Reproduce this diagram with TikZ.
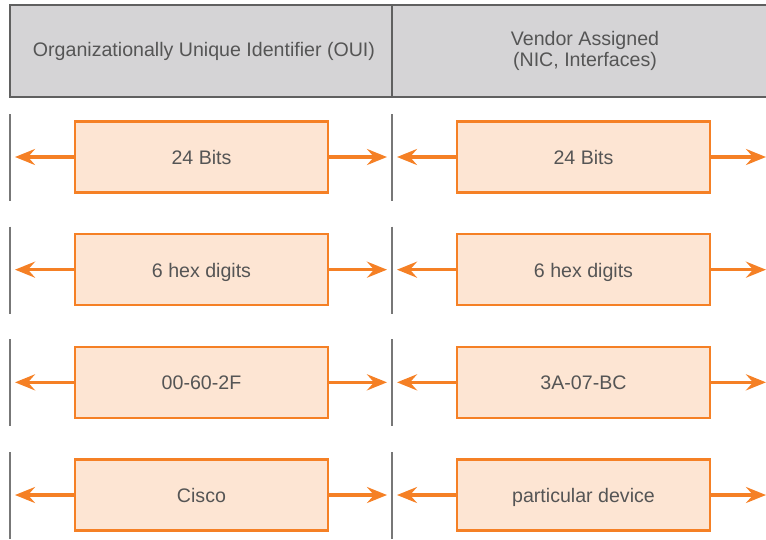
\documentclass[tikz,border=0pt]{standalone}
\usepackage{fontspec}
\setmainfont{Liberation Sans}
\usetikzlibrary{arrows.meta}
\definecolor{hdrfill}{HTML}{D5D4D6}
\definecolor{hdrline}{HTML}{606060}
\definecolor{boxfill}{HTML}{FDE5D3}
\definecolor{boxline}{HTML}{F58025}
\definecolor{txt}{HTML}{555555}
\definecolor{sep}{HTML}{777777}
\tikzset{
  hdrtext/.style={text=txt,font=\fontsize{19.6}{21}\selectfont,align=center},
  fieldbox/.style={draw=boxline,fill=boxfill,line width=2.5pt,minimum width=253pt,minimum height=71pt,inner sep=0pt,text=txt,font=\fontsize{19.6}{21}\selectfont,text height=15pt,text depth=0pt},
  sepline/.style={draw=sep,line width=2pt},
  orarrow/.style={draw=boxline,line width=3.5pt,-{Stealth[length=20pt,width=16pt,inset=7pt]}}
}
\begin{document}
\begin{tikzpicture}[x=1pt,y=-1pt]
\useasboundingbox (0,0) rectangle (766,539);
% header
\fill[hdrfill] (10,5) rectangle (790,97);
\draw[hdrline,line width=2.5pt] (790,5) -- (10,5) -- (10,97) -- (790,97);
\draw[hdrline,line width=2.5pt] (392,5) -- (392,97);
\node[hdrtext] (oui) at (204,51) {Organizationally Unique Identifier (OUI)};
\node[hdrtext] (vendor) at (585,51) {Vendor Assigned\\(NIC, Interfaces)};
% rows
\foreach \i/\lt/\rt in {0/24 Bits/24 Bits, 1/6 hex digits/6 hex digits, 2/00-60-2F/3A-07-BC, 3/Cisco/particular device}{
  \pgfmathsetmacro{\yc}{157+112.67*\i}
  \draw[sepline] (10,\yc-43) -- (10,\yc+44);
  \draw[sepline] (392,\yc-43) -- (392,\yc+44);
  \node[fieldbox] (L\i) at (201.5,\yc) {\lt};
  \node[fieldbox] (R\i) at (583.5,\yc) {\rt};
  \coordinate (la\i) at (15,\yc);
  \coordinate (lb\i) at (387,\yc);
  \coordinate (ra\i) at (397,\yc);
  \coordinate (rb\i) at (766,\yc);
  \draw[orarrow] (L\i.west) -- (la\i);
  \draw[orarrow] (L\i.east) -- (lb\i);
  \draw[orarrow] (R\i.west) -- (ra\i);
  \draw[orarrow] (R\i.east) -- (rb\i);
}
\end{tikzpicture}
\end{document}
